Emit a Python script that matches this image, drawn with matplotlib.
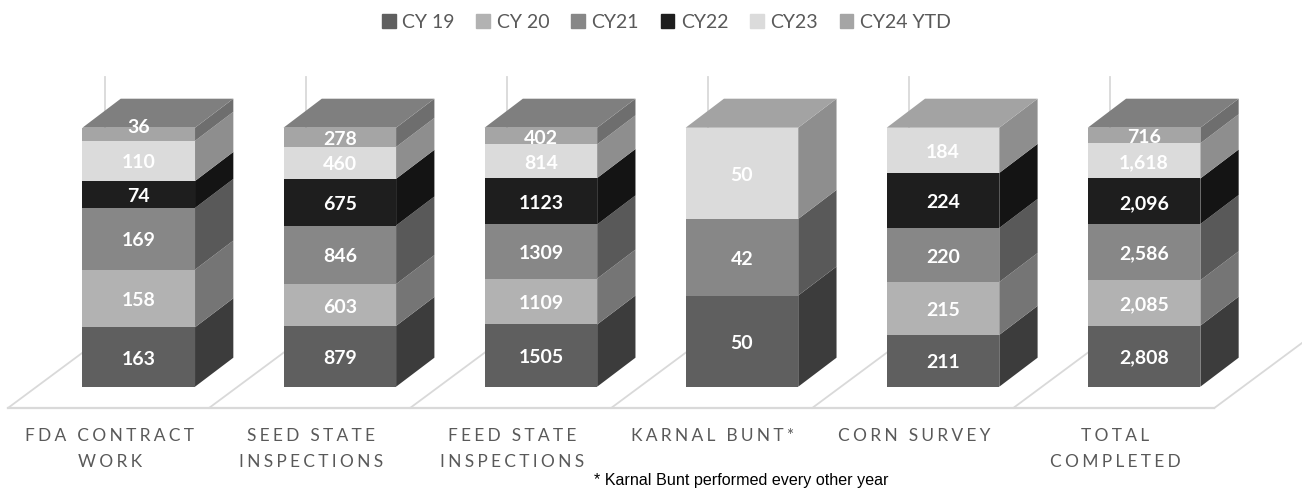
import matplotlib
matplotlib.use("Agg")
import matplotlib.pyplot as plt
from matplotlib.patches import Patch
import numpy as np

categories = ["FDA CONTRACT\nWORK", "SEED STATE\nINSPECTIONS", "FEED STATE\nINSPECTIONS",
              "KARNAL BUNT*", "CORN SURVEY", "TOTAL\nCOMPLETED"]
series_names = ["CY 19", "CY 20", "CY21", "CY22", "CY23", "CY24 YTD"]

# rows follow the series, 0 means nothing reported that year
cy19 = [163, 879, 1505, 50, 211, 2808]
cy20 = [158, 603, 1109, 0, 215, 2085]
cy21 = [169, 846, 1309, 42, 220, 2586]
cy22 = [74, 675, 1123, 0, 224, 2096]
cy23 = [110, 460, 814, 50, 184, 1618]
cy24 = [36, 278, 402, 0, 0, 716]

front_colors = ["#5f5f5f", "#b2b2b2", "#878787", "#1e1e1e", "#dbdbdb", "#a5a5a5"]
side_colors = ["#3c3c3c", "#757575", "#595959", "#141414", "#8e8e8e", "#6e6e6e"]
top_colors = ["#4a4a4a", "#8a8a8a", "#6a6a6a", "#181818", "#a3a3a3", "#7f7f7f"]

W, H = 1302, 491
# pixel frame of the plot area: the 0-100% band of the front faces
left_px, right_px = 38.2, 1244.6
bottom_px, top_px = 386.7, 127.7

BAR_W = 0.56
DX, DY = 0.1905, 0.112          # bar depth
FLOOR_X, FLOOR_Y = -0.65, -0.082  # front left corner of the floor
FLOOR_DX, FLOOR_DY = 0.4825, 0.278
WALL_TOP = 1.195
GRID = "#d9d9d9"


def spaced(label):
    # chart font has wide tracking on the axis labels
    return "\n".join("\u2009\u200a".join(line) for line in label.split("\n"))


plt.rcParams['font.family'] = ['Lato', 'DejaVu Sans']
fig = plt.figure(figsize=(W / 100, H / 100), dpi=100)
ax = fig.add_axes([left_px / W, 1 - bottom_px / H, (right_px - left_px) / W, (bottom_px - top_px) / H])
ax.set_xlim(-0.5, 5.5)
ax.set_ylim(0, 1)
for s in ax.spines.values():
    s.set_visible(False)

# floor and back wall
for i in range(7):
    x0 = FLOOR_X + i
    ax.plot([x0, x0 + FLOOR_DX], [FLOOR_Y, FLOOR_Y + FLOOR_DY], color=GRID, lw=1.3, clip_on=False, zorder=1)
    ax.plot([x0 + FLOOR_DX] * 2, [FLOOR_Y + FLOOR_DY, WALL_TOP], color=GRID, lw=1.3, clip_on=False, zorder=1)
ax.plot([FLOOR_X, FLOOR_X + 6], [FLOOR_Y, FLOOR_Y], color=GRID, lw=1.6, clip_on=False, zorder=1)

data = np.array([cy19, cy20, cy21, cy22, cy23, cy24], dtype=float)
totals = data.sum(axis=0)
shares = data / totals
x = np.arange(len(categories))
bottoms = np.zeros(len(categories))

for k, name in enumerate(series_names):
    ax.bar(x, shares[k], BAR_W, bottom=bottoms, color=front_colors[k], label=name, clip_on=False, zorder=3)
    for i in x:
        if data[k, i] == 0:
            continue
        xr = i + BAR_W / 2
        y0, y1 = bottoms[i], bottoms[i] + shares[k, i]
        ax.fill([xr, xr + DX, xr + DX, xr], [y0, y0 + DY, y1 + DY, y1], color=side_colors[k], lw=0, clip_on=False, zorder=3)
        yc = (y0 + y1) / 2 - 0.008
        if data[k, i] == 36:
            yc = y1 + 0.002  # label pushed up onto the lid
        ax.text(i, yc, f"{int(data[k, i]):,}" if i == 5 else str(int(data[k, i])),
                color="white", fontweight="bold", fontsize=14, ha="center", va="center", zorder=5)
    bottoms += shares[k]

# lids take the colour of the top segment
for i in x:
    k = np.nonzero(data[:, i])[0][-1]
    xl, xr = i - BAR_W / 2, i + BAR_W / 2
    ax.fill([xl, xr, xr + DX, xl + DX], [1, 1, 1 + DY, 1 + DY], color=top_colors[k], lw=0, clip_on=False, zorder=3)

ax.set_yticks([])
ax.set_xticks(x - 0.145)
ax.set_xticklabels([spaced(c) for c in categories], color="#595959", fontsize=12.5, linespacing=1.72)
ax.tick_params(axis="x", length=0, pad=30)

handles = [Patch(color=c, label=n) for c, n in zip(front_colors, series_names)]
fig.legend(handles=handles, loc="center", bbox_to_anchor=(666.5 / W, 1 - 22.5 / H), ncol=6, frameon=False,
           fontsize=14, labelcolor="#595959", handlelength=0.7, handleheight=0.7, handletextpad=0.35,
           columnspacing=1.11, borderpad=0)

fig.text(594 / W, 1 - 485 / H, "* Karnal Bunt performed every other year", family="Liberation Sans",
         fontsize=11.6, color="black", ha="left", va="baseline")

fig.savefig("out.png", dpi=100)
